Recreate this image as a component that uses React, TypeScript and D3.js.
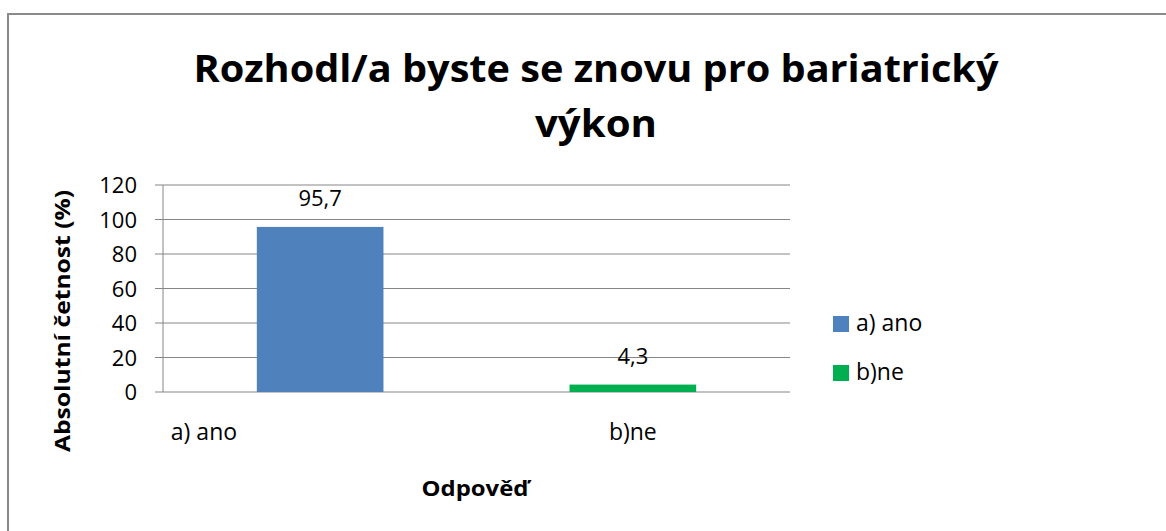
import React from "react";
import * as d3 from "d3";

const categories = ["a) ano", "b)ne"];
const values = [95.7, 4.3];
const valueLabels = ["95,7", "4,3"];
const colors = ["#4F81BD", "#00B050"];
const yTicks = [0, 20, 40, 60, 80, 100, 120];
const titleLines = ["Rozhodl/a byste se znovu pro bariatrický", "výkon"];
const yTitle = "Absolutní četnost (%)";
const xTitle = "Odpověď";

const W = 1166;
const H = 531;
const FONT = "'Open Sans', 'Noto Sans', sans-serif";

export default function App() {
  const x = d3
    .scaleBand<string>()
    .domain(categories)
    .range([163, 790])
    .paddingInner(0.595)
    .paddingOuter(0.3);
  const y = d3.scaleLinear().domain([0, 120]).range([392, 185]);
  const grid = "#868686";

  return (
    <svg
      width={W}
      height={H}
      style={{ position: "absolute", left: 0, top: 0, background: "#fff" }}
      fontFamily={FONT}
    >
      <rect x={0} y={0} width={W} height={H} fill="#fff" />
      {/* outer frame */}
      <path d={`M8,${H} V14 H${W}`} fill="none" stroke="#8a8a8a" strokeWidth={2} />

      {/* title */}
      <text
        x={596}
        y={82}
        textAnchor="middle"
        fontWeight="bold"
        fontSize={38}
        textLength={805}
        lengthAdjust="spacingAndGlyphs"
        fill="#000"
      >
        {titleLines[0]}
      </text>
      <text
        x={596}
        y={137}
        textAnchor="middle"
        fontWeight="bold"
        fontSize={38}
        textLength={122}
        lengthAdjust="spacingAndGlyphs"
        fill="#000"
      >
        {titleLines[1]}
      </text>

      {/* gridlines and y ticks */}
      {yTicks.map((t) => (
        <g key={t}>
          <line x1={155} x2={790} y1={y(t)} y2={y(t)} stroke={grid} strokeWidth={1} />
          <text x={137} y={y(t) + 8} textAnchor="end" fontSize={22} fill="#000">
            {t}
          </text>
        </g>
      ))}
      <line x1={163} x2={163} y1={y(120)} y2={y(0)} stroke={grid} strokeWidth={1} />

      {/* bars */}
      {categories.map((c, i) => (
        <g key={c}>
          <rect
            x={x(c)}
            y={y(values[i])}
            width={x.bandwidth()}
            height={y(0) - y(values[i])}
            fill={colors[i]}
          />
          <text
            x={(x(c) as number) + x.bandwidth() / 2}
            y={y(values[i]) - 21}
            textAnchor="middle"
            fontSize={22}
            fill="#000"
          >
            {valueLabels[i]}
          </text>
        </g>
      ))}

      {/* category labels */}
      {categories.map((c, i) => (
        <text
          key={c}
          x={i === 0 ? (x(c) as number) - 86 : (x(c) as number) + x.bandwidth() / 2}
          y={440}
          textAnchor={i === 0 ? "start" : "middle"}
          fontSize={23}
          fill="#000"
        >
          {c}
        </text>
      ))}

      {/* axis titles */}
      <text
        transform={`translate(70,321) rotate(-90)`}
        textAnchor="middle"
        fontWeight="bold"
        fontSize={22}
        textLength={262}
        lengthAdjust="spacingAndGlyphs"
        fill="#000"
      >
        {yTitle}
      </text>
      <text
        x={475}
        y={496}
        textAnchor="middle"
        fontWeight="bold"
        fontSize={22}
        textLength={107}
        lengthAdjust="spacingAndGlyphs"
        fill="#000"
      >
        {xTitle}
      </text>

      {/* legend */}
      {categories.map((c, i) => (
        <g key={c} transform={`translate(833,${316 + i * 49})`}>
          <rect x={0} y={0} width={16} height={16} fill={colors[i]} />
          <text x={23} y={15} fontSize={23} fill="#000">
            {c}
          </text>
        </g>
      ))}
    </svg>
  );
}
